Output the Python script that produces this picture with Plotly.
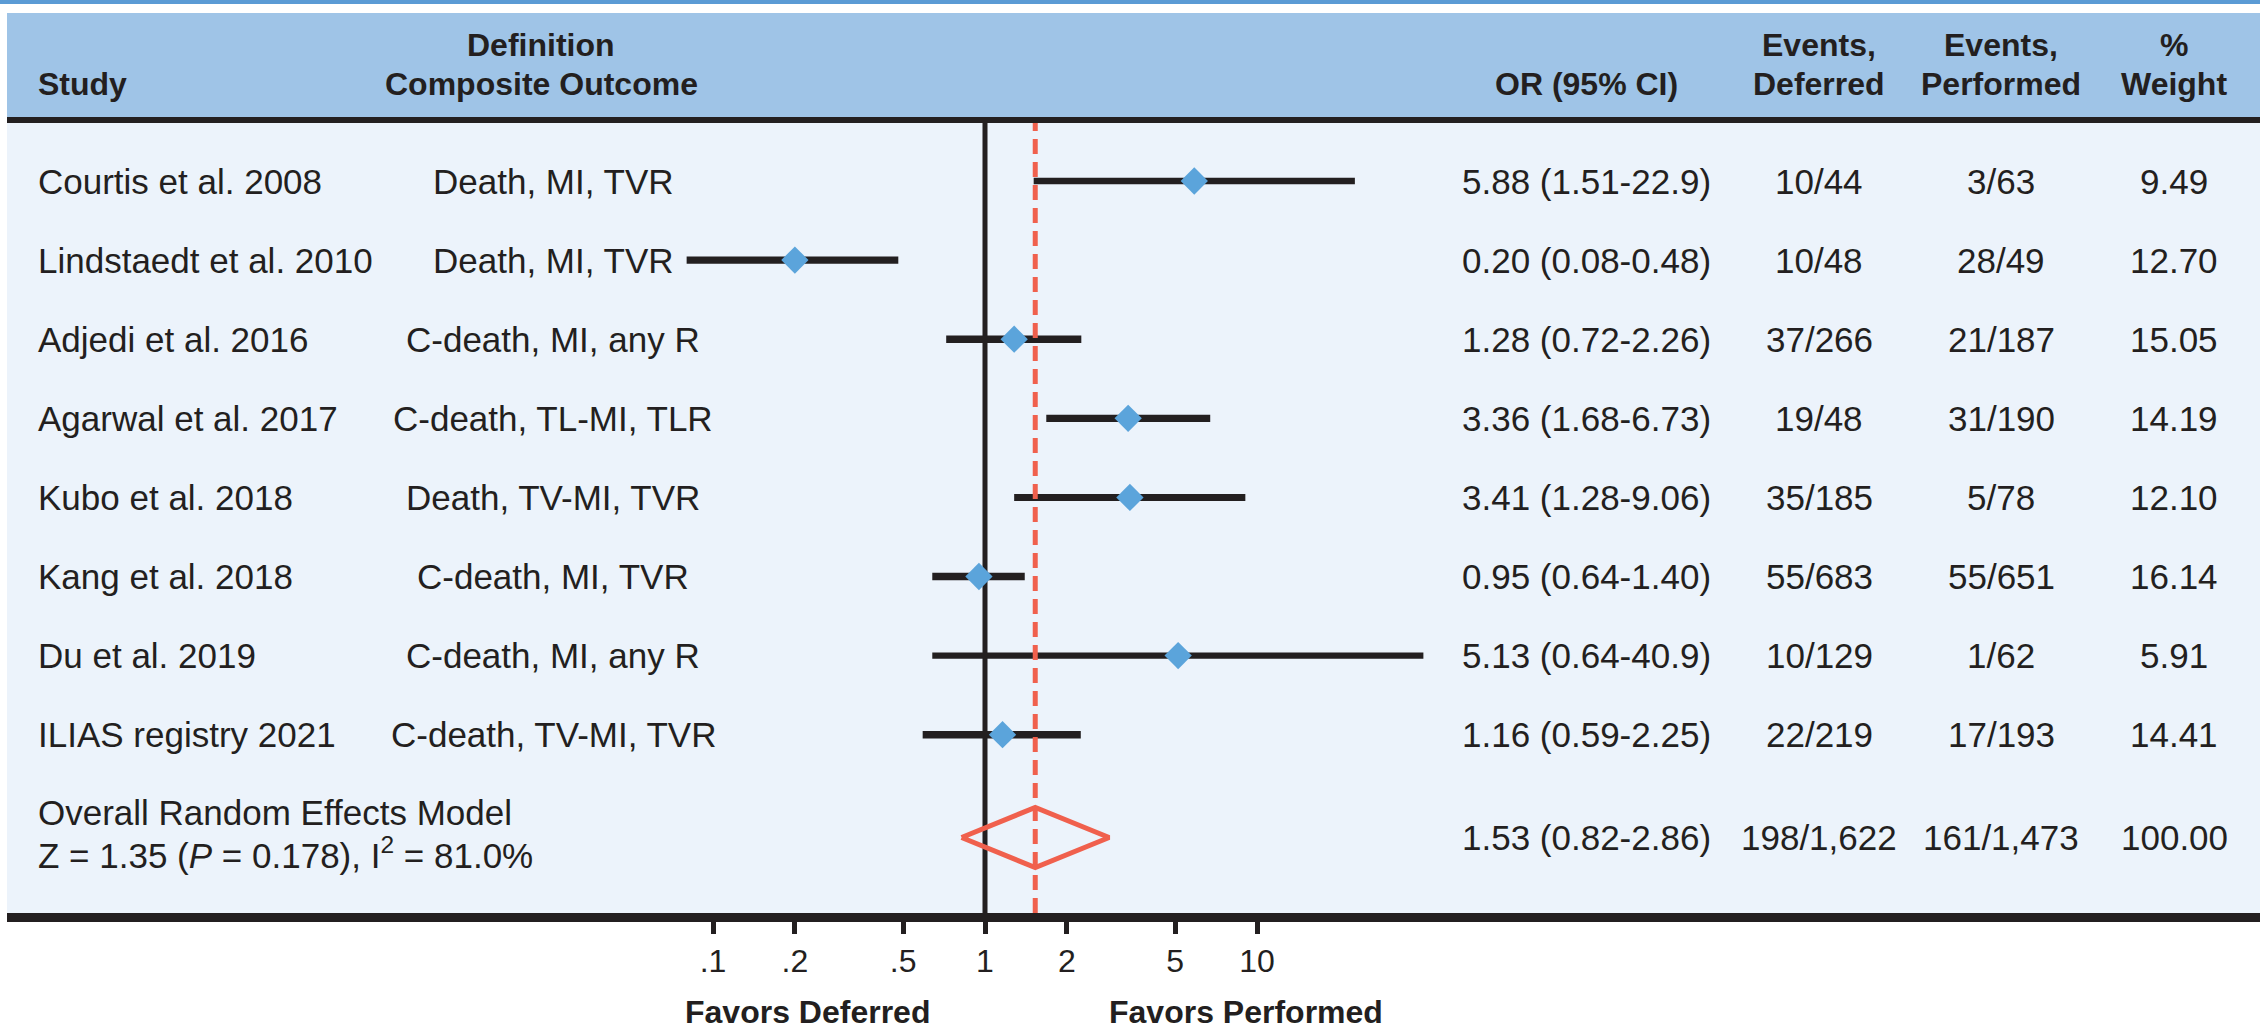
import plotly.graph_objects as go

# ---------------- data ----------------
studies = ["Courtis et al. 2008", "Lindstaedt et al. 2010", "Adjedi et al. 2016",
           "Agarwal et al. 2017", "Kubo et al. 2018", "Kang et al. 2018",
           "Du et al. 2019", "ILIAS registry 2021"]
definitions = ["Death, MI, TVR", "Death, MI, TVR", "C-death, MI, any R",
               "C-death, TL-MI, TLR", "Death, TV-MI, TVR", "C-death, MI, TVR",
               "C-death, MI, any R", "C-death, TV-MI, TVR"]
odds_ratio = [5.88, 0.20, 1.28, 3.36, 3.41, 0.95, 5.13, 1.16]
ci_low = [1.51, 0.08, 0.72, 1.68, 1.28, 0.64, 0.64, 0.59]
ci_high = [22.9, 0.48, 2.26, 6.73, 9.06, 1.40, 40.9, 2.25]
events_deferred = [10, 10, 37, 19, 35, 55, 10, 22]
total_deferred = [44, 48, 266, 48, 185, 683, 129, 219]
events_performed = [3, 28, 21, 31, 5, 55, 1, 17]
total_performed = [63, 49, 187, 190, 78, 651, 62, 193]
weights = [9.49, 12.70, 15.05, 14.19, 12.10, 16.14, 5.91, 14.41]

overall_or = 1.53
overall_low = 0.82
overall_high = 2.86
overall_weight = 100.00
overall_label = "Overall Random Effects Model"
overall_stats = "Z = 1.35 (<i>P</i> = 0.178), I<sup>2</sup> = 81.0%"

tick_values = [0.1, 0.2, 0.5, 1, 2, 5, 10]
tick_labels = [".1", ".2", ".5", "1", "2", "5", "10"]

header_top = ["Definition", "Events,", "Events,", "%"]
header_bottom = ["Study", "Composite Outcome", "OR (95% CI)", "Deferred", "Performed", "Weight"]
favors = ["Favors Deferred", "Favors Performed"]

# ---------------- style ----------------
W, H = 2267, 1031
TXT = "#231F20"
RED = "#F0604D"
BLUE_MK = "#5BA4DB"
BODY = "Liberation Sans, Arial, sans-serif"
BODY_SIZE = 35
HEAD_SIZE = 32

def px_x(p):
    return p / W

def px_y(p):
    return 1 - p / H

def fmt(v):
    return f"{v:.1f}" if v >= 10 else f"{v:.2f}"

panel_l, panel_r = 7, 2260
panel_top, panel_bot = 123, 913
row0, row_step = 181, 79.1
x_one_px, decade_px = 985, 272

n = len(studies)
y_overall = n + 0.3
y_top = (panel_top - row0) / row_step
y_bot = (panel_bot - row0) / row_step

fig = go.Figure()

# CI lines
for i in range(n):
    fig.add_trace(go.Scatter(x=[ci_low[i], ci_high[i]], y=[i, i], mode="lines",
                             line=dict(color=TXT, width=5.2 + 0.15 * weights[i]),
                             hoverinfo="skip", showlegend=False))
# point estimates
fig.add_trace(go.Scatter(x=odds_ratio, y=list(range(n)), mode="markers",
                         marker=dict(symbol="diamond", size=21, color=BLUE_MK, line=dict(width=0)),
                         showlegend=False))
# overall diamond
dh = 0.38
fig.add_trace(go.Scatter(x=[overall_low, overall_or, overall_high, overall_or, overall_low],
                         y=[y_overall, y_overall - dh, y_overall, y_overall + dh, y_overall],
                         mode="lines", line=dict(color=RED, width=5), showlegend=False))

shapes = []
shapes.append(dict(type="rect", xref="paper", yref="paper", x0=px_x(0), x1=px_x(panel_r),
                   y0=px_y(4), y1=px_y(0), fillcolor="#5B9BD5", line_width=0, layer="below"))
shapes.append(dict(type="rect", xref="paper", yref="paper", x0=px_x(panel_l), x1=px_x(panel_r),
                   y0=px_y(117), y1=px_y(13), fillcolor="#9FC4E7", line_width=0, layer="below"))
shapes.append(dict(type="rect", xref="paper", yref="paper", x0=px_x(panel_l), x1=px_x(panel_r),
                   y0=px_y(123), y1=px_y(117), fillcolor=TXT, line_width=0, layer="below"))
shapes.append(dict(type="line", xref="x", yref="y domain", x0=1, x1=1, y0=0, y1=1,
                   line=dict(color=TXT, width=5), layer="below"))
shapes.append(dict(type="line", xref="x", yref="y domain", x0=overall_or, x1=overall_or, y0=0, y1=1,
                   line=dict(color=RED, width=5, dash="15px,8px"), layer="above"))

ann = []
def add_text(text, x, y, xanchor="center", size=BODY_SIZE, yref="paper", bold=False):
    ann.append(dict(text=f"<b>{text}</b>" if bold else text, x=x, y=y, xref="paper", yref=yref,
                    xanchor=xanchor, yanchor="middle", showarrow=False,
                    font=dict(family=BODY, size=size, color=TXT)))

col_x = [36, 541, 1586, 1819, 2001, 2174]
add_text(header_bottom[0], px_x(col_x[0]), px_y(84), "left", HEAD_SIZE, bold=True)
for j, t in enumerate(header_bottom[1:]):
    add_text(t, px_x(col_x[j + 1]), px_y(84), "center", HEAD_SIZE, bold=True)
for t, cx in zip(header_top, [col_x[1], col_x[3], col_x[4], col_x[5]]):
    add_text(t, px_x(cx), px_y(45), "center", HEAD_SIZE, bold=True)

def_x = 553
for i in range(n):
    add_text(studies[i], px_x(36), i, "left", yref="y")
    add_text(definitions[i], px_x(def_x), i, yref="y")
    add_text(f"{fmt(odds_ratio[i])} ({fmt(ci_low[i])}-{fmt(ci_high[i])})", px_x(1586), i, yref="y")
    add_text(f"{events_deferred[i]}/{total_deferred[i]}", px_x(1819), i, yref="y")
    add_text(f"{events_performed[i]}/{total_performed[i]}", px_x(2001), i, yref="y")
    add_text(f"{weights[i]:.2f}", px_x(2174), i, yref="y")

add_text(overall_label, px_x(36), px_y(812), "left")
add_text(overall_stats, px_x(36), px_y(853), "left")
add_text(f"{fmt(overall_or)} ({fmt(overall_low)}-{fmt(overall_high)})", px_x(1586), y_overall, yref="y")
add_text(f"{sum(events_deferred)}/{sum(total_deferred):,}", px_x(1819), y_overall, yref="y")
add_text(f"{sum(events_performed)}/{sum(total_performed):,}", px_x(2001), y_overall, yref="y")
add_text(f"{overall_weight:.2f}", px_x(2174), y_overall, yref="y")

add_text(favors[0], px_x(807), px_y(1012), "center", HEAD_SIZE, bold=True)
add_text(favors[1], px_x(1246), px_y(1012), "center", HEAD_SIZE, bold=True)

x0_log = (panel_l - x_one_px) / decade_px
x1_log = (panel_r - x_one_px) / decade_px

fig.update_layout(
    width=W, height=H, autosize=False,
    margin=dict(l=0, r=0, t=0, b=0),
    paper_bgcolor="white", plot_bgcolor="#ECF3FB",
    shapes=shapes, annotations=ann,
    hovermode=False,
    xaxis=dict(type="log", domain=[px_x(panel_l), px_x(panel_r)], range=[x0_log, x1_log],
               tickvals=tick_values, ticktext=tick_labels, ticks="outside", ticklen=12,
               tickwidth=5, tickcolor=TXT, showline=True, linewidth=9, linecolor=TXT,
               showgrid=False, zeroline=False,
               tickfont=dict(family=BODY, size=32, color=TXT)),
    yaxis=dict(domain=[1 - panel_bot / H, 1 - panel_top / H], range=[y_bot, y_top],
               visible=False, showgrid=False, zeroline=False),
    showlegend=False,
)

fig.write_html("out.html", config={"displayModeBar": False, "staticPlot": True},
               post_script="document.body.style.margin='0';document.body.style.overflow='hidden';")
